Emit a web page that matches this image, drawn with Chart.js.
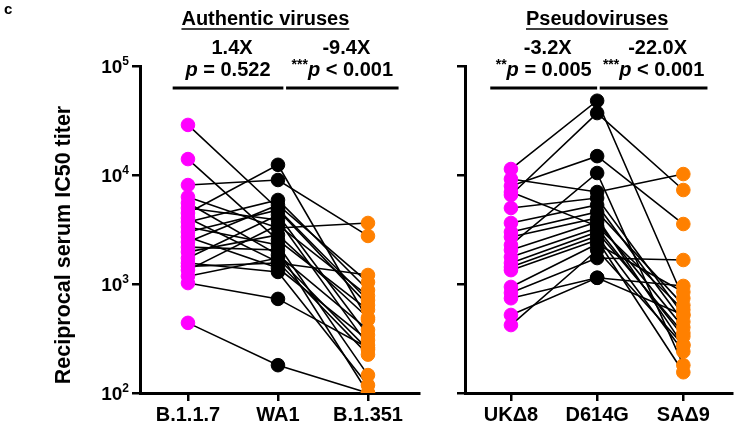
<!DOCTYPE html>
<html>
<head>
<meta charset="utf-8">
<script src="https://cdn.jsdelivr.net/npm/chart.js@4"></script>
<style>
  html, body { margin: 0; padding: 0; background: #fff; }
  #wrap { position: relative; width: 740px; height: 433px; }
  #c1 { position: absolute; left: 0; top: 0; }
  #c2 { position: absolute; left: 440px; top: 0; }
</style>
</head>
<body>
<div id="wrap">
  <canvas id="c1" width="430" height="433"></canvas>
  <canvas id="c2" width="300" height="433"></canvas>
</div>
<script>
/* ===== Paired neutralisation titers, two panels ===== */

const authLabels   = ['B.1.1.7', 'WA1', 'B.1.351'];
const pseudoLabels = ['UKΔ8', 'D614G', 'SAΔ9'];
const yTicks = [100, 1000, 10000, 100000];

// one entry per serum sample, same order in each array
const authB117  = [28800, 14000, 8090, 4480, 6290, 5540, 4980, 4030, 3710, 3330, 3000, 2700, 2430, 2180, 1970, 1730, 1560, 1340, 1180, 1020, 440, 1450];
const authWA1   = [4880, 2530, 9000, 12400, 3260, 1850, 3870, 1590, 5900, 2280, 4780, 1400, 5310, 2050, 2820, 4300, 1290, 3480, 1730, 730, 180, 1560];
const authB1351 = [710, 580, 2760, 470, 3630, 380, 275, 225, 880, 146, 640, 305, 1040, 100, 490, 340, 118, 780, 250, 260, 100, 1210];

const psUK    = [11350, 6560, 7930, 2280, 9190, 4980, 3630, 3000, 2700, 2050, 1770, 1560, 1430, 1340, 940, 830, 740, 520, 420, 6980];
const psD614G = [48000, 37000, 14900, 10430, 6980, 6150, 5310, 4580, 4030, 3710, 3260, 3000, 2760, 2530, 2330, 1730, 1140, 1140, 2050, 3400];
const psSA    = [740, 7280, 3550, 180, 10200, 520, 450, 640, 275, 400, 330, 355, 240, 155, 845, 1660, 960, 520, 275, 580];

const authFold   = ['1.4X', '-9.4X'];
const authStars  = ['', '***'];
const authP      = [' = 0.522', ' < 0.001'];
const pseudoFold  = ['-3.2X', '-22.0X'];
const pseudoStars = ['**', '***'];
const pseudoP     = [' = 0.005', ' < 0.001'];

const COLORS = ['#ff00ff', '#000000', '#ff8000'];
const FONT = '"Liberation Sans", Arial, Helvetica, sans-serif';

function drawRuns(ctx, runs, cx, y) {
  let total = 0;
  runs.forEach(r => { ctx.font = r.font; r.w = ctx.measureText(r.t).width; total += r.w; });
  let x = cx - total / 2;
  ctx.textAlign = 'left';
  ctx.textBaseline = 'alphabetic';
  runs.forEach(r => { ctx.font = r.font; ctx.fillText(r.t, x, y + (r.dy || 0)); x += r.w; });
  return { left: cx - total / 2, right: cx + total / 2 };
}

const panelDeco = {
  id: 'panelDeco',
  afterDraw(chart, args, o) {
    const ctx = chart.ctx;
    const xs = chart.scales.x, ys = chart.scales.y;
    ctx.save();
    ctx.fillStyle = '#000';
    ctx.strokeStyle = '#000';

    // panel title, underlined
    const t = drawRuns(ctx, [{ t: o.title, font: 'bold 20px ' + FONT }], xs.getPixelForValue(o.titleAt), 25);
    ctx.lineWidth = 1.5;
    ctx.beginPath(); ctx.moveTo(t.left, 29); ctx.lineTo(t.right, 29); ctx.stroke();

    // comparison bars with fold change and p value
    o.bars.forEach((b, i) => {
      const x0 = xs.getPixelForValue(b[0]), x1 = xs.getPixelForValue(b[1]);
      const cx = (x0 + x1) / 2;
      ctx.lineWidth = 3;
      ctx.beginPath(); ctx.moveTo(x0, 88); ctx.lineTo(x1, 88); ctx.stroke();
      drawRuns(ctx, [{ t: o.fold[i], font: 'bold 20px ' + FONT }], cx + 4, 54);
      drawRuns(ctx, [
        { t: o.stars[i], font: 'bold 14px ' + FONT, dy: -7 },
        { t: 'p', font: 'italic bold 20px ' + FONT },
        { t: o.p[i], font: 'bold 20px ' + FONT }
      ], cx, 76);
    });

    if (o.yLabels) {
      // 10^n tick labels
      yTicks.forEach(v => {
        const y = ys.getPixelForValue(v);
        const e = String(Math.round(Math.log10(v)));
        ctx.font = 'bold 12px ' + FONT;
        const ew = ctx.measureText(e).width;
        const right = ys.right - 11;
        ctx.textAlign = 'left';
        ctx.textBaseline = 'alphabetic';
        ctx.fillText(e, right - ew, y - 1);
        ctx.font = 'bold 19px ' + FONT;
        ctx.textAlign = 'right';
        ctx.fillText('10', right - ew, y + 7);
      });
      // axis title
      ctx.save();
      ctx.translate(64, 245);
      ctx.rotate(-Math.PI / 2);
      ctx.font = 'bold 21.5px ' + FONT;
      ctx.textAlign = 'center';
      ctx.textBaseline = 'middle';
      ctx.fillText('Reciprocal serum IC50 titer', 0, 0);
      ctx.restore();
      // panel letter
      ctx.font = 'bold 15px ' + FONT;
      ctx.textAlign = 'left';
      ctx.textBaseline = 'top';
      ctx.fillText('c', 4, 2);
    }
    ctx.restore();
  }
};

function buildPanel(id, labels, cols, deco, yWidth, padRight) {
  const lineSets = cols[0].map((_, i) => ({
    type: 'line',
    data: [0, 1, 2].map(x => ({ x, y: cols[x][i] })),
    borderColor: '#000',
    borderWidth: 1.6,
    pointRadius: 0,
    order: 2
  }));
  const pointSets = [0, 1, 2].map(x => ({
    type: 'scatter',
    data: cols[x].map(v => ({ x, y: v })),
    backgroundColor: COLORS[x],
    borderColor: COLORS[x],
    pointRadius: 6.8,
    pointBorderWidth: 1,
    order: 1
  }));

  return new Chart(document.getElementById(id), {
    type: 'scatter',
    data: { datasets: lineSets.concat(pointSets) },
    options: {
      responsive: false,
      animation: false,
      devicePixelRatio: 1,
      layout: { padding: { left: 0, right: padRight, top: 66, bottom: 0 } },
      plugins: { legend: { display: false }, tooltip: { enabled: false }, panelDeco: deco },
      scales: {
        x: {
          type: 'linear',
          min: -0.533,
          max: 2.567,
          afterBuildTicks: s => { s.ticks = [0, 1, 2].map(v => ({ value: v })); },
          afterFit: s => { s.height = 40; },
          ticks: {
            callback: v => labels[v],
            font: { family: FONT, size: 20, weight: 'bold' },
            color: '#000',
            padding: 2,
            maxRotation: 0,
            autoSkip: false
          },
          grid: { drawOnChartArea: false, tickLength: 8, lineWidth: 2.5, color: '#000' },
          border: { width: 3, color: '#000' }
        },
        y: {
          type: 'logarithmic',
          min: 100,
          max: 100000,
          afterBuildTicks: s => { s.ticks = yTicks.map(v => ({ value: v })); },
          afterFit: s => { s.width = yWidth; },
          ticks: { display: false },
          grid: { drawOnChartArea: false, tickLength: 8, lineWidth: 2.5, color: '#000' },
          border: { width: 3, color: '#000' }
        }
      }
    },
    plugins: [panelDeco]
  });
}

buildPanel('c1', authLabels, [authB117, authWA1, authB1351],
  { title: 'Authentic viruses', titleAt: 0.86, bars: [[-0.17, 1.06], [1.09, 2.34]],
    fold: authFold, stars: authStars, p: authP, yLabels: true }, 140, 11);
buildPanel('c2', pseudoLabels, [psUK, psD614G, psSA],
  { title: 'Pseudoviruses', titleAt: 1.0, bars: [[-0.24, 1.0], [1.03, 2.28]],
    fold: pseudoFold, stars: pseudoStars, p: pseudoP, yLabels: false }, 25, 2);
</script>
</body>
</html>
